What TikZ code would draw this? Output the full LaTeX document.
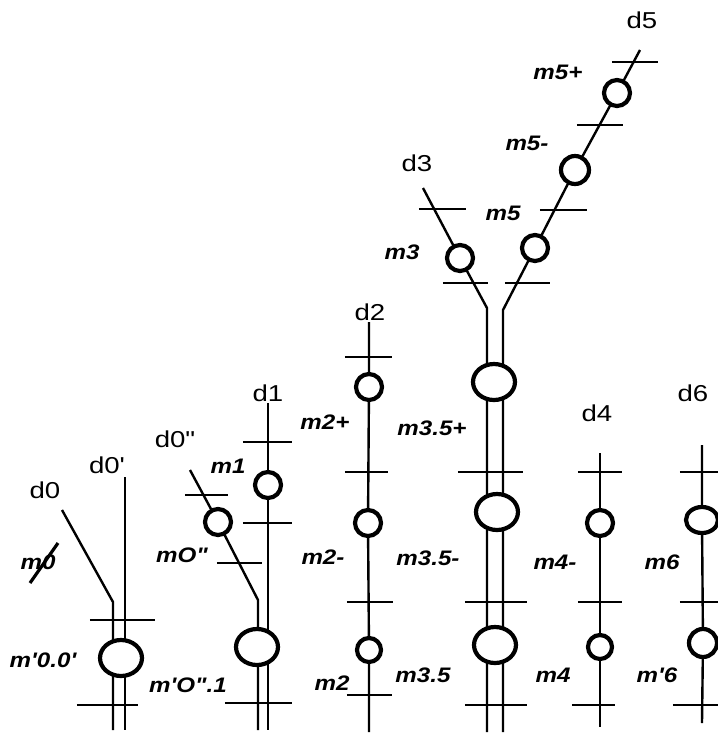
\documentclass[tikz,border=0pt]{standalone}
\usepackage{fontspec}
\setmainfont{Liberation Sans}
\newfontfamily\dfont[FakeStretch=1.2]{Liberation Sans}
\newfontfamily\mfont[FakeStretch=1.15]{Liberation Sans}
\usetikzlibrary{
	shapes.geometric,
	backgrounds
}
\newcommand{\sq}{\char"27\relax}
\newcommand{\dq}{\char"22\relax}

\begin{document}
\begin{tikzpicture}[
		x=0.5pt, y=-0.5pt,
		knot/.style={draw, circle, line width=2.1pt, fill=white, minimum size=13pt, inner sep=0pt},
		bigknot/.style={draw, ellipse, line width=2.1pt, fill=white, minimum width=21pt, minimum height=18pt, inner sep=0pt},
		wire/.style={line width=1.2pt},
		bar/.style={line width=0.8pt},
		dname/.style={font=\dfont\fontsize{11.5}{13}\selectfont},
		mname/.style={font=\mfont\fontsize{10.5}{12}\selectfont\bfseries\itshape}
		]
		
		\useasboundingbox (0,0) rectangle (718,736);
		
		% Nodes
		\node[bigknot] (m00) at (121,658) {};
		\node[knot] (m0b) at (218,522) {};
		\node[knot] (m1) at (268,485) {};
		\node[bigknot] (m01) at (257,647) {};
		\node[knot] (m2p) at (369,387) {};
		\node[knot] (m2m) at (368,523) {};
		\node[knot, minimum size=12pt] (m2) at (369,650) {};
		\node[knot] (m3) at (460,258) {};
		\node[knot] (m5) at (535,248) {};
		\node[knot, minimum size=14pt] (m5m) at (575,170) {};
		\node[knot] (m5p) at (617,93) {};
		\node[bigknot] (m35p) at (494,382) {};
		\node[bigknot] (m35m) at (497,512) {};
		\node[bigknot] (m35) at (495,645) {};
		\node[knot] (m4m) at (600,523) {};
		\node[knot, minimum size=12pt] (m4) at (600,647) {};
		\node[knot, ellipse, minimum width=16pt, minimum height=13pt] (m6) at (702,520) {};
		\node[knot, minimum size=14pt] (m6b) at (703,643) {};
		
		% Ends and bends
		\coordinate (d0top) at (62,510);
		\coordinate (d0bend) at (113,602);
		\coordinate (d0bot) at (113,730);
		\coordinate (d0ptop) at (125,477);
		\coordinate (d0pbot) at (125,730);
		\coordinate (d0btop) at (190,470);
		\coordinate (d0bbend) at (258,600);
		\coordinate (d0bbot) at (258,730);
		\coordinate (d1top) at (268,403);
		\coordinate (d1bot) at (268,730);
		\coordinate (d2top) at (369,322);
		\coordinate (d2bot) at (369,732);
		\coordinate (d3top) at (423,188);
		\coordinate (d3bend) at (487,308);
		\coordinate (d3bot) at (487,732);
		\coordinate (d5top) at (640,50);
		\coordinate (d5bend) at (503,310);
		\coordinate (d5bot) at (503,732);
		\coordinate (d4top) at (600,453);
		\coordinate (d4bot) at (600,727);
		\coordinate (d6top) at (702,445);
		\coordinate (d6bot) at (702,723);
		
		% Lines
		\begin{scope}[on background layer]
			\draw[wire] (d0top) -- (d0bend) -- (d0bot);
			\draw[wire] (d0ptop) -- (d0pbot);
			\draw[wire] (d0btop) -- (m0b.center) -- (d0bbend) -- (d0bbot);
			\draw[wire] (d1top) -- (m1.center) -- (d1bot);
			\draw[wire] (d2top) -- (m2p.center) -- (m2m.center) -- (m2.center) -- (d2bot);
			\draw[wire] (d3top) -- (m3.center) -- (d3bend) -- (d3bot);
			\draw[wire] (d5top) -- (m5p.center) -- (m5m.center) -- (m5.center) -- (d5bend) -- (d5bot);
			\draw[wire] (d4top) -- (m4m.center) -- (m4.center) -- (d4bot);
			\draw[wire] (d6top) -- (m6.center) -- (m6b.center) -- (d6bot);
		\end{scope}
		
		% Cross bars
		\foreach \y/\a/\b in {620/90/155, 705/77/138,
				442/243/292, 523/243/292, 495/185/228, 563/217/262, 703/225/292,
				357/345/392, 472/345/388, 602/347/393, 695/347/392,
				209/419/466, 283/443/488, 62/612/658, 125/577/623, 210/540/587, 283/505/550,
				472/458/523, 602/465/527, 705/465/527,
				472/578/622, 602/578/622, 705/572/615,
				472/680/718, 602/680/718, 705/673/718}
		\draw[bar] (\a,\y) -- (\b,\y);
		
		% Labels
		\node[dname] (ld0) at (45,490) {d0};
		\node[dname] (ld0p) at (107,465) {d0\sq};
		\node[dname] (ld0b) at (175,439) {d0\dq};
		\node[dname] (ld1) at (268,393) {d1};
		\node[dname] (ld2) at (370,312) {d2};
		\node[dname] (ld3) at (417,163) {d3};
		\node[dname] (ld5) at (642,20) {d5};
		\node[dname] (ld4) at (597,413) {d4};
		\node[dname] (ld6) at (693,393) {d6};
		
		\node[mname] (lm0) at (38,562) {m0};
		\draw[line width=1.6pt] (30,583) -- (58,543);
		\node[mname] (lm00) at (43,660) {m\sq0.0\sq};
		\node[mname] (lm1) at (228,466) {m1};
		\node[mname] (lm0b) at (182,555) {mO\dq};
		\node[mname] (lm01) at (188,685) {m\sq O\dq.1};
		\node[mname] (lm2p) at (325,422) {m2+};
		\node[mname] (lm2m) at (323,557) {m2-};
		\node[mname] (lm2) at (332,683) {m2};
		\node[mname] (lm3) at (402,252) {m3};
		\node[mname] (lm5) at (503,213) {m5};
		\node[mname] (lm5m) at (527,143) {m5-};
		\node[mname] (lm5p) at (558,72) {m5+};
		\node[mname] (lm35p) at (432,428) {m3.5+};
		\node[mname] (lm35m) at (428,558) {m3.5-};
		\node[mname] (lm35) at (423,675) {m3.5};
		\node[mname] (lm4m) at (555,562) {m4-};
		\node[mname] (lm4) at (553,675) {m4};
		\node[mname] (lm6) at (662,562) {m6};
		\node[mname] (lm6b) at (657,675) {m\sq6};
		
	\end{tikzpicture}
\end{document}
